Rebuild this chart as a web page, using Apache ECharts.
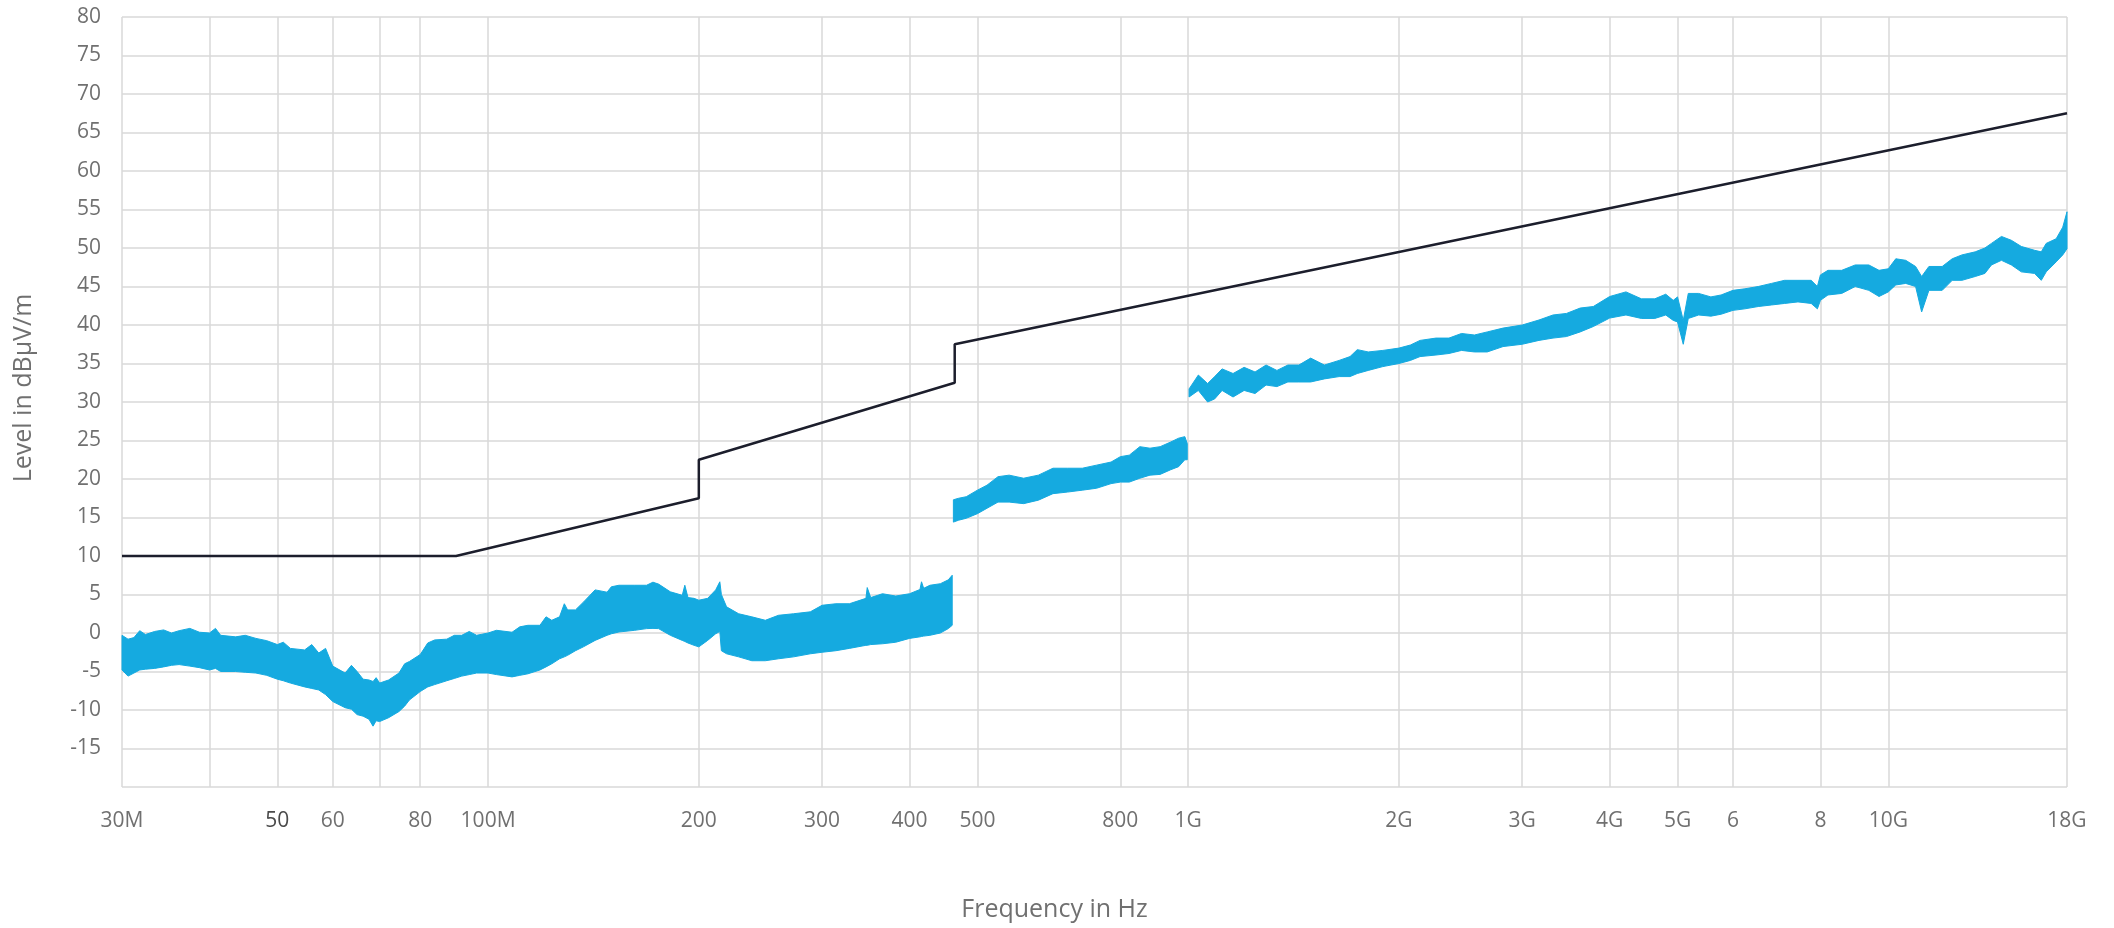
<!DOCTYPE html>
<html>
<head>
<meta charset="utf-8">
<script src="https://cdn.jsdelivr.net/npm/echarts@6.0.0/dist/echarts.min.js"></script>
<style>
  html, body { margin: 0; padding: 0; background: #ffffff; }
  #chart { width: 2114px; height: 928px; }
</style>
</head>
<body>
<div id="chart"></div>
<script>
// ---------- DATA (frequencies in MHz, levels in dBµV/m) ----------
const gridFreqs  = [30, 40, 50, 60, 70, 80, 100, 200, 300, 400, 500, 800, 1000, 2000, 3000, 4000, 5000, 6000, 8000, 10000, 18000];
const gridLabels = ['30M', '', '50', '60', '', '80', '100M', '200', '300', '400', '500', '800', '1G', '2G', '3G', '4G', '5G', '6', '8', '10G', '18G'];

const yMin = -20, yMax = 80, yStep = 5;

const limitFreq  = [30, 90, 200, 200, 464, 464, 18000];
const limitLevel = [10, 10, 17.5, 22.5, 32.5, 37.5, 67.5];

// Segment 1: 30 MHz – 460 MHz
const band1Freq = [30, 30.6, 31.2, 31.8, 32.4, 33.4, 34.4, 35.3, 36.2, 37.5, 38.7, 40, 40.8, 41.5, 43.6, 45, 46.6, 48.3, 50, 51, 52.2, 54.7, 56, 57.3, 58.6, 60, 62.5, 63.8, 65, 66.3, 67.6, 68.5, 69.2, 70, 72.1, 74.6, 76, 77.2, 80, 82, 83.9, 87.3, 89.5, 91.7, 94, 96.3, 100, 102.8, 108.2, 111, 114, 118.6, 121, 123.3, 126.5, 128.5, 129.9, 133.3, 136.8, 142.2, 147.9, 150, 153.8, 162, 168.4, 172, 175.2, 182.1, 189.4, 191, 193, 196.9, 200, 205.9, 211.4, 214.3, 215.4, 219.1, 228, 238.1, 248.9, 259.9, 273.1, 288.6, 300, 313.9, 328.1, 346.5, 348, 352, 365.9, 382.2, 400, 413.9, 416, 419, 427.7, 442.6, 454.3, 460.2];
const band1Low  = [-4.8, -5.6, -5.2, -4.8, -4.7, -4.6, -4.4, -4.2, -4.1, -4.3, -4.5, -4.8, -4.6, -5.0, -5.0, -5.1, -5.2, -5.5, -6.0, -6.2, -6.5, -7.0, -7.2, -7.4, -8.0, -8.9, -9.7, -9.9, -10.6, -10.8, -11.2, -12.1, -11.4, -11.5, -11.0, -10.2, -9.5, -8.7, -7.6, -7.0, -6.7, -6.2, -5.9, -5.6, -5.4, -5.2, -5.2, -5.4, -5.7, -5.5, -5.3, -4.8, -4.4, -4.0, -3.35, -3.1, -2.9, -2.3, -1.8, -0.96, -0.3, -0.1, 0.13, 0.35, 0.57, 0.6, 0.57, -0.3, -0.96, -1.1, -1.3, -1.6, -1.8, -0.96, -0.1, 0.2, -2.3, -2.7, -3.1, -3.6, -3.6, -3.35, -3.1, -2.7, -2.5, -2.3, -2.0, -1.6, -1.6, -1.5, -1.4, -1.2, -0.7, -0.5, -0.45, -0.4, -0.3, 0.0, 0.57, 1.0];
const band1High = [-0.3, -0.8, -0.6, 0.3, -0.2, 0.2, 0.4, 0.0, 0.3, 0.6, 0.1, 0.0, 0.6, -0.3, -0.5, -0.3, -0.7, -1.0, -1.5, -1.2, -2.0, -2.2, -1.5, -2.6, -2.0, -4.3, -5.2, -4.2, -5.0, -6.0, -6.1, -6.3, -5.8, -6.5, -6.1, -5.2, -4.0, -3.7, -2.8, -1.3, -0.9, -0.8, -0.3, -0.3, 0.2, -0.3, 0.0, 0.35, 0.1, 0.8, 1.0, 1.0, 2.1, 1.65, 2.1, 3.8, 3.0, 3.0, 4.0, 5.6, 5.3, 6.0, 6.2, 6.2, 6.2, 6.6, 6.35, 5.35, 4.9, 6.2, 4.6, 4.5, 4.26, 4.5, 5.6, 6.65, 5.0, 3.4, 2.5, 2.1, 1.65, 2.3, 2.5, 2.75, 3.6, 3.8, 3.8, 4.5, 5.9, 4.6, 5.1, 4.8, 5.1, 5.65, 6.65, 5.8, 6.2, 6.4, 6.9, 7.5];

// Segment 2: 462 MHz – 1 GHz
const band2Freq = [462, 470, 482, 500, 516, 535, 555, 582, 611, 641, 672, 706, 740, 776, 800, 824, 853, 882, 912, 944, 969, 989, 997];
const band2Low  = [14.4, 14.65, 14.9, 15.5, 16.2, 17.0, 17.0, 16.8, 17.25, 18.1, 18.3, 18.55, 18.8, 19.4, 19.6, 19.6, 20.1, 20.5, 20.6, 21.2, 21.6, 22.5, 22.5];
const band2High = [17.3, 17.5, 17.7, 18.55, 19.2, 20.3, 20.5, 20.1, 20.5, 21.4, 21.4, 21.4, 21.8, 22.2, 22.9, 23.1, 24.2, 24.0, 24.2, 24.8, 25.3, 25.5, 24.6];

// Segment 3: 1 GHz – 18 GHz
const band3Freq = [1003, 1034, 1066, 1091, 1118, 1159, 1202, 1246, 1292, 1339, 1388, 1439, 1496, 1565, 1643, 1703, 1744, 1808, 1897, 2000, 2077, 2144, 2259, 2358, 2457, 2564, 2674, 2817, 3000, 3170, 3320, 3470, 3630, 3790, 4000, 4220, 4440, 4640, 4810, 4930, 5000, 5095, 5180, 5360, 5580, 5770, 6000, 6240, 6520, 6810, 7110, 7430, 7760, 7920, 8000, 8200, 8580, 8970, 9380, 9700, 10000, 10250, 10590, 10940, 11160, 11430, 11940, 12340, 12740, 13310, 13740, 14040, 14510, 14990, 15490, 16180, 16540, 16810, 17370, 17750, 18000];
const band3Low  = [30.65, 31.5, 30.0, 30.4, 31.5, 30.65, 31.5, 31.1, 32.2, 32.0, 32.6, 32.6, 32.6, 33.0, 33.3, 33.3, 33.7, 34.1, 34.6, 35.0, 35.4, 35.9, 36.1, 36.3, 36.7, 36.5, 36.5, 37.2, 37.5, 38.0, 38.3, 38.5, 39.1, 39.8, 40.9, 41.3, 40.85, 40.85, 41.3, 40.6, 40.4, 37.5, 40.85, 41.3, 41.15, 41.4, 41.9, 42.1, 42.4, 42.6, 42.8, 43.0, 42.8, 42.1, 43.2, 43.9, 44.1, 45.0, 44.5, 43.7, 44.3, 45.2, 45.4, 45.0, 41.7, 44.5, 44.5, 45.8, 45.8, 46.3, 46.7, 47.8, 48.4, 47.8, 46.9, 46.7, 45.8, 46.9, 48.2, 49.1, 49.9];
const band3High = [31.7, 33.5, 32.4, 33.3, 34.3, 33.7, 34.5, 33.9, 34.8, 34.1, 34.8, 34.8, 35.7, 34.8, 35.4, 35.9, 36.8, 36.5, 36.7, 37.0, 37.4, 38.0, 38.3, 38.3, 38.9, 38.7, 39.1, 39.6, 40.0, 40.65, 41.3, 41.5, 42.2, 42.4, 43.7, 44.3, 43.4, 43.4, 44.0, 43.2, 43.65, 40.6, 44.1, 44.1, 43.65, 43.9, 44.5, 44.7, 45.0, 45.4, 45.8, 45.8, 45.8, 45.0, 46.5, 47.1, 47.1, 47.8, 47.8, 47.1, 47.3, 48.6, 48.4, 47.6, 46.3, 47.6, 47.6, 48.6, 49.1, 49.5, 50.0, 50.6, 51.5, 51.0, 50.2, 49.7, 49.5, 50.6, 51.2, 52.7, 54.7];

// ---------- STYLE ----------
const BLUE = '#15aae0';
const LIMIT_COLOR = '#1c1e2c';
const GRID_COLOR = '#d9d9d9';
const TEXT_COLOR = '#707070';
const FONT = 'Open Sans';

const segments = [
  { freq: band1Freq, low: band1Low, high: band1High },
  { freq: band2Freq, low: band2Low, high: band2High },
  { freq: band3Freq, low: band3Low, high: band3High }
];

const markLineData = gridFreqs.map((f, i) => {
  const item = { xAxis: f };
  if (!gridLabels[i]) {
    item.label = { show: false };
  } else {
    item.label = { show: true, formatter: gridLabels[i] };
    if (gridLabels[i] === '50') {
      item.label.color = '#4a4a4a';
    }
  }
  return item;
});

const chart = echarts.init(document.getElementById('chart'), null, { renderer: 'canvas' });

chart.setOption({
  animation: false,
  backgroundColor: '#ffffff',
  grid: { left: 122, right: 47, top: 17, bottom: 141, outerBoundsMode: 'none', containLabel: false },
  xAxis: {
    type: 'log', logBase: 10, min: gridFreqs[0], max: gridFreqs[gridFreqs.length - 1],
    axisLine: { show: false }, axisTick: { show: false }, axisLabel: { show: false },
    splitLine: { show: false }, minorSplitLine: { show: false },
    name: 'Frequency in Hz', nameLocation: 'middle', nameGap: 110,
    nameTextStyle: { fontSize: 25, color: TEXT_COLOR, fontFamily: FONT, padding: [0, 80, 0, 0] }
  },
  yAxis: {
    type: 'value', min: yMin, max: yMax, interval: yStep,
    axisLine: { show: false }, axisTick: { show: false },
    axisLabel: {
      margin: 21, fontSize: 21, color: TEXT_COLOR, fontFamily: FONT,
      formatter: v => (v === yMin ? '' : String(v))
    },
    splitLine: { show: true, lineStyle: { color: GRID_COLOR, width: 1.5 } },
    name: 'Level in dBμV/m', nameLocation: 'middle', nameGap: 86,
    nameTextStyle: { fontSize: 25, color: TEXT_COLOR, fontFamily: FONT, padding: [0, 0, 0, 28] }
  },
  series: [
    {
      name: 'Measurement', type: 'custom', z: 3, silent: true,
      data: segments.map((s, i) => [s.freq[0], s.low[0], i]),
      encode: { x: 0, y: 1 },
      renderItem: function (params, api) {
        const seg = segments[api.value(2)];
        const pts = [];
        for (let i = 0; i < seg.freq.length; i++) pts.push(api.coord([seg.freq[i], seg.high[i]]));
        for (let i = seg.freq.length - 1; i >= 0; i--) pts.push(api.coord([seg.freq[i], seg.low[i]]));
        return {
          type: 'polygon',
          shape: { points: pts },
          style: { fill: BLUE, stroke: BLUE, lineWidth: 1, lineJoin: 'miter' }
        };
      }
    },
    {
      name: 'Limit', type: 'line', z: 5, silent: true,
      data: limitFreq.map((f, i) => [f, limitLevel[i]]),
      symbol: 'none',
      lineStyle: { color: LIMIT_COLOR, width: 2.5 },
      markLine: {
        silent: true, z: 1, animation: false,
        symbol: ['none', 'none'],
        lineStyle: { color: GRID_COLOR, width: 1.5, type: 'solid' },
        label: { position: 'start', distance: 24, color: TEXT_COLOR, fontSize: 21, fontFamily: FONT },
        emphasis: { disabled: true },
        data: markLineData
      }
    }
  ]
});
</script>
</body>
</html>
